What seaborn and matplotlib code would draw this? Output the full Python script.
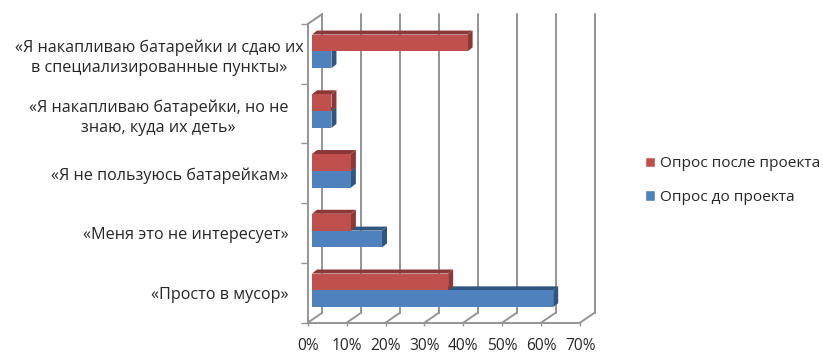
import matplotlib
matplotlib.use("Agg")
import matplotlib.pyplot as plt
from matplotlib.lines import Line2D
from matplotlib.patches import Polygon, Patch
from matplotlib.transforms import Affine2D
import pandas as pd
import seaborn as sns

categories = ["«Я накапливаю батарейки и сдаю их\nв специализированные пункты»",
              "«Я накапливаю батарейки, но не\nзнаю, куда их деть»",
              "«Я не пользуюсь батарейкам»",
              "«Меня это не интересует»",
              "«Просто в мусор»"]
after_values = [40, 5, 10, 10, 35]
before_values = [5, 5, 10, 18, 62]
after_name = "Опрос после проекта"
before_name = "Опрос до проекта"
x_ticks = [0, 10, 20, 30, 40, 50, 60, 70]
x_labels = ["0%", "10%", "20%", "30%", "40%", "50%", "60%", "70%"]

W, H = 823, 354
sns.set_theme(style="white")
plt.rcParams["font.family"] = ["Open Sans", "DejaVu Sans"]
FS = 11.6
GRID = "#949494"
TXT = "#262626"
RED, BLUE = "#C0504D", "#4F81BD"
DARK = {RED: "#8C3836", BLUE: "#2F5680"}

fig = plt.figure(figsize=(W / 100, H / 100), dpi=100, facecolor="white")

def rect(x0, x1, ytop, ybot):
    return [x0 / W, 1 - ybot / H, (x1 - x0) / W, (ybot - ytop) / H]

# front plane: category axis and value axis
ax = fig.add_axes(rect(307.7, 580, 24, 322.7))
ax.set_xlim(0, 70)
ax.set_ylim(4.5, -0.5)
for s in ("top", "right"):
    ax.spines[s].set_visible(False)
for s in ("left", "bottom"):
    ax.spines[s].set_color(GRID)
    ax.spines[s].set_linewidth(1.4)
ax.set_xticks(x_ticks, x_labels, fontsize=11.2, color=TXT)
ax.tick_params(axis="x", length=2, width=1, color=GRID, pad=9, bottom=True)
ax.set_yticks(range(len(categories)), categories, fontsize=FS, color=TXT,
              multialignment="center", linespacing=1.35)
ax.tick_params(axis="y", which="major", length=0, pad=14)
ax.set_yticks([i - 0.5 for i in range(len(categories) + 1)], minor=True)
ax.tick_params(axis="y", which="minor", length=5, width=1, color=GRID, left=True)
first = ax.get_yticklabels()[0]
first.set_transform(first.get_transform() + Affine2D().translate(15, 0))

# back wall and floor, offset from the front plane by the chart depth
back = ax.transData + Affine2D().translate(14.6, 10)
for v in x_ticks:
    ax.add_line(Line2D([v, v], [-0.5, 4.5], color=GRID, lw=1.4, transform=back, clip_on=False, zorder=1))
    x0, y0 = ax.transData.transform((v, 4.5))
    ax.add_line(Line2D([x0, x0 + 14.6], [y0, y0 + 10], color=GRID, lw=1.4, transform=None, clip_on=False, zorder=1))
x0, y0 = ax.transData.transform((0, -0.5))
ax.add_line(Line2D([x0, x0 + 14.6], [y0, y0 + 10], color=GRID, lw=1.4, transform=None, clip_on=False, zorder=1))

# bars sit mid-depth: a transparent axes with the same scale, shifted
bx = fig.add_axes(rect(312, 584.3, 21.5, 320.2))
df = pd.DataFrame({
    "cat": categories * 2,
    "val": after_values + before_values,
    "series": [after_name] * 5 + [before_name] * 5,
})
sns.barplot(data=df, y="cat", x="val", hue="series", hue_order=[after_name, before_name],
            palette=[RED, BLUE], order=categories, orient="h", width=0.563, gap=0,
            saturation=1, legend=False, ax=bx, linewidth=0)
bx.set_xlim(0, 70)
bx.set_ylim(4.5, -0.5)
bx.axis("off")
bx.patch.set_alpha(0)

DX, DY = 5.0, 4.0
to_px = bx.transData
for container, col, z in ((bx.containers[1], BLUE, 2), (bx.containers[0], RED, 4)):
    for bar in container:
        (xa, ya), (xb, yb) = to_px.transform(
            [(0, bar.get_y()), (bar.get_width(), bar.get_y() + bar.get_height())])
        ytop, ybot = max(ya, yb), min(ya, yb)
        bar.set_zorder(z + 1)
        bar.set_facecolor(col)
        bx.add_patch(Polygon([(xa, ytop), (xb, ytop), (xb + DX, ytop + DY), (xa + DX, ytop + DY)],
                             closed=True, transform=None, fc=DARK[col], ec="none", zorder=z, clip_on=False))
        bx.add_patch(Polygon([(xb, ytop), (xb + DX, ytop + DY), (xb + DX, ybot + DY), (xb, ybot)],
                             closed=True, transform=None, fc=DARK[col], ec="none", zorder=z, clip_on=False))

handles = [Patch(fc=RED, label=after_name), Patch(fc=BLUE, label=before_name)]
fig.legend(handles=handles, loc="center left", bbox_to_anchor=(645 / W, 1 - 180.5 / H), frameon=False,
           fontsize=11.1, labelcolor=TXT, handlelength=0.68, handleheight=0.68, handletextpad=0.3,
           labelspacing=1.2, borderpad=0, borderaxespad=0)

fig.savefig("out.png", dpi=100, facecolor="white")
